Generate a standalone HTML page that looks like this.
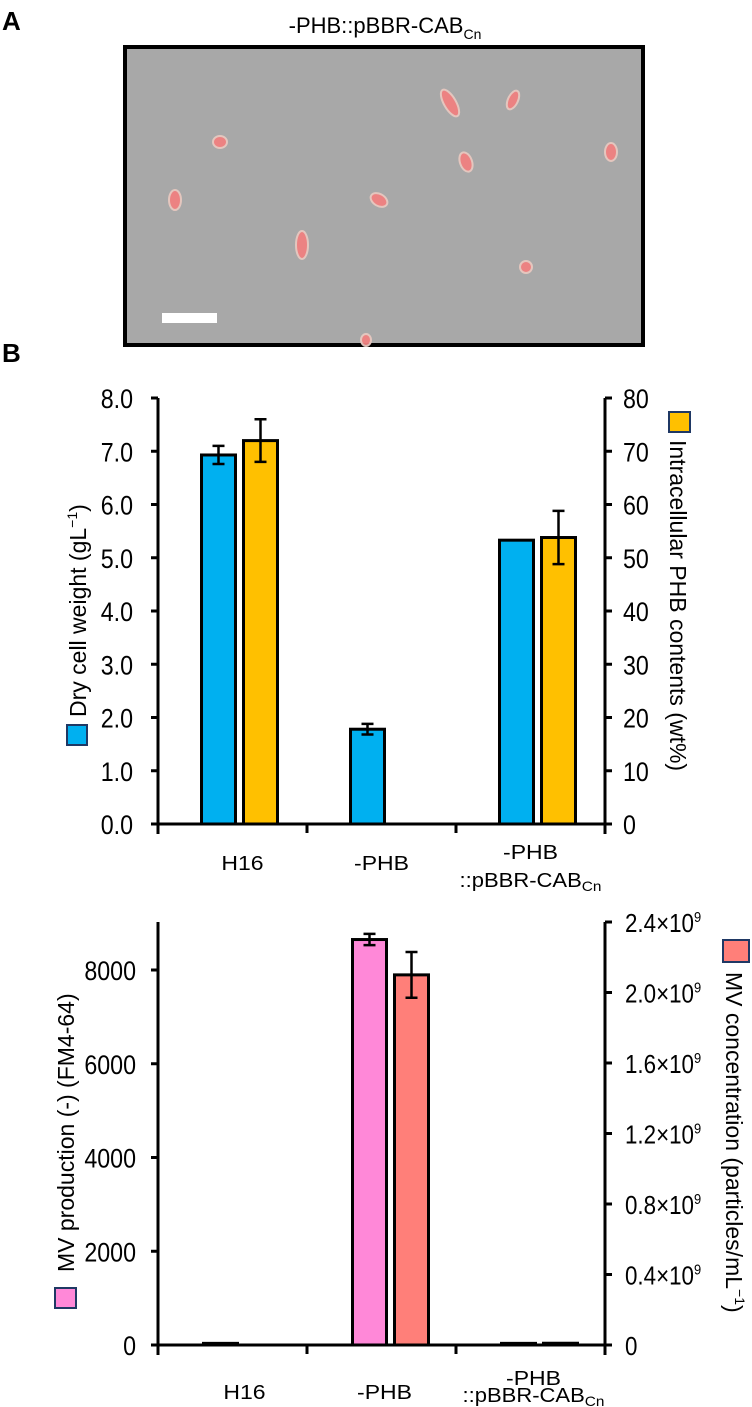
<!DOCTYPE html>
<html><head><meta charset="utf-8">
<style>
html,body{margin:0;padding:0;background:#fff;}
svg{display:block;font-family:"Liberation Sans",Arial,sans-serif;}
</style></head>
<body>
<svg id="fig" width="752" height="1407" viewBox="0 0 752 1407" xmlns="http://www.w3.org/2000/svg">
  <text x="2" y="30" font-size="26" font-weight="bold">A</text>
  <text x="385" y="33" font-size="22" text-anchor="middle">-PHB::pBBR-CAB<tspan font-size="14" dy="6">Cn</tspan></text>
  <g>
    <rect x="125" y="47" width="518" height="298" fill="#a8a8a8" stroke="#000" stroke-width="4"/>
    <g fill="#f08080" stroke="#e8c8c0" stroke-width="2" opacity="0.95">
      <ellipse cx="220" cy="142" rx="7" ry="6"/>
      <ellipse cx="175" cy="200" rx="6" ry="10"/>
      <ellipse cx="302" cy="245" rx="6" ry="14"/>
      <ellipse cx="379" cy="200" rx="9" ry="6" transform="rotate(30 379 200)"/>
      <ellipse cx="450" cy="103" rx="6" ry="15" transform="rotate(-30 450 103)"/>
      <ellipse cx="513" cy="100" rx="5" ry="10" transform="rotate(25 513 100)"/>
      <ellipse cx="466" cy="162" rx="6" ry="10" transform="rotate(-20 466 162)"/>
      <ellipse cx="611" cy="152" rx="6" ry="9"/>
      <ellipse cx="526" cy="267" rx="6" ry="6"/>
      <ellipse cx="366" cy="340" rx="5" ry="6"/>
    </g>
    <rect x="162" y="313" width="55" height="10" fill="#fff"/>
  </g>
  <text x="2" y="362" font-size="26" font-weight="bold">B</text>
  <g id="c1"></g>
  <g id="c2"></g>
</svg>
<script>
const categories = ["H16", "-PHB", "-PHB::pBBR-CABCn"];
const dcwValues = [6.93, 1.78, 5.33];
const dcwErrors = [0.17, 0.1, 0];
const phbValues = [72, null, 53.8];
const phbErrors = [4, null, 5];
const dcwTicks = ["0.0","1.0","2.0","3.0","4.0","5.0","6.0","7.0","8.0"];
const phbTicks = ["0","10","20","30","40","50","60","70","80"];
const mvProdValues = [35, 8650, 35];
const mvProdErrors = [0, 120, 0];
const mvConcValues = [null, 2.1e9, 0.01e9];
const mvConcErrors = [null, 0.13e9, 0];
const mvProdTicks = [0, 2000, 4000, 6000, 8000];
const mvConcTicks = [0, 0.4, 0.8, 1.2, 1.6, 2.0, 2.4];

const NS = "http://www.w3.org/2000/svg";
function mk(parent, tag, attrs, text) {
  const e = document.createElementNS(NS, tag);
  for (const k in attrs) e.setAttribute(k, attrs[k]);
  if (text !== undefined) e.textContent = text;
  parent.appendChild(e);
  return e;
}
function stext(parent, x, y, size, sx, anchor, str) {
  return mk(parent, "text", {transform: `translate(${x},${y}) scale(${sx},1)`, "font-size": size, "text-anchor": anchor}, str);
}
const X0 = 158, X1 = 605;
function groupCenter(i) { return X0 + (X1 - X0) * (i + 0.5) / categories.length; }

function drawBar(g, xl, yTop, yBase, fill, name) {
  const r = mk(g, "rect", {x: xl, y: yTop, width: 34, height: Math.max(yBase - yTop, 0), fill: fill, stroke: "#000", "stroke-width": 3});
  
  
}
function drawErr(g, cx, yHi, yLo, name) {
  const e = mk(g, "path", {d: `M${cx-6},${yHi}H${cx+6}M${cx},${yHi}V${yLo}M${cx-6},${yLo}H${cx+6}`, stroke: "#000", "stroke-width": 2.5, fill: "none"});
  
  
}
function xLabels(g, ySingle, yL1, yL2, dxs) {
  categories.forEach((c, i) => {
    const cx = groupCenter(i) + dxs[i];
    if (i < 2) {
      const t = stext(g, cx, ySingle, 20, 1.15, "middle", c);
      
      
    } else {
      const t = stext(g, cx, yL1, 20, 1.15, "middle", "-PHB");
      
      
      const t2 = stext(g, cx, yL2, 20, 1.1, "middle", "::pBBR-CAB");
      mk(t2, "tspan", {"font-size": 14, dy: 4}, "Cn");
      
      
    }
  });
}
function axes(g, yBase, yAxisTop) {
  mk(g, "path", {d: `M${X0},${yAxisTop}V${yBase+10}M${X1},${yAxisTop}V${yBase+10}M${X0},${yBase}H${X1}`, stroke: "#000", "stroke-width": 3, fill: "none"});
  for (let i = 1; i < categories.length; i++) {
    const x = X0 + (X1 - X0) * i / categories.length;
    mk(g, "line", {x1: x, x2: x, y1: yBase, y2: yBase + 9, stroke: "#000", "stroke-width": 3});
  }
}

// Chart 1
(function(){
  const g = document.getElementById("c1");
  const yBase = 824, yTop = 398;
  const yL = v => yBase - (v / 8) * (yBase - yTop);
  const yR = v => yBase - (v / 80) * (yBase - yTop);
  axes(g, yBase, yTop);
  dcwTicks.forEach(t => {
    const y = yL(parseFloat(t));
    mk(g, "line", {x1: X0 - 7, x2: X0, y1: y, y2: y, stroke: "#000", "stroke-width": 3});
    const tx = stext(g, 133, y + 10, 27, 0.86, "end", t);
    
    
  });
  phbTicks.forEach(t => {
    const y = yR(parseFloat(t));
    mk(g, "line", {x1: X1, x2: X1 + 7, y1: y, y2: y, stroke: "#000", "stroke-width": 3});
    const tx = stext(g, 623, y + 10, 27, 0.86, "start", t);
    
    
  });
  categories.forEach((c, i) => {
    const cx = groupCenter(i) + 7;
    drawBar(g, cx - 38, yL(dcwValues[i]), yBase, "#00b0f0", "dcw-bar-" + i);
    if (dcwErrors[i]) drawErr(g, cx - 21, yL(dcwValues[i] + dcwErrors[i]), yL(dcwValues[i] - dcwErrors[i]), "dcw-error-" + i);
    if (phbValues[i] !== null) {
      drawBar(g, cx + 4, yR(phbValues[i]), yBase, "#ffc000", "phb-bar-" + i);
      if (phbErrors[i]) drawErr(g, cx + 21, yR(phbValues[i] + phbErrors[i]), yR(phbValues[i] - phbErrors[i]), "phb-error-" + i);
    }
  });
  xLabels(g, 870, 859, 887, [10, 0, 0]);
  const lt = mk(g, "g", {transform: "translate(86,611) rotate(-90)"});
  
  
  mk(lt, "rect", {x: -134, y: -19, width: 20, height: 20, fill: "#00b0f0", stroke: "#1f3864", "stroke-width": 2});
  const t1 = mk(lt, "text", {x: -106, y: 0, "font-size": 23}, "Dry cell weight (gL");
  mk(t1, "tspan", {"font-size": 14, dy: -9}, "−1");
  mk(t1, "tspan", {dy: 9}, ")");
  const rt = mk(g, "g", {transform: "translate(670,412) rotate(90)"});
  
  
  mk(rt, "rect", {x: 0, y: -20, width: 20, height: 21, fill: "#ffc000", stroke: "#1f3864", "stroke-width": 2});
  mk(rt, "text", {x: 28, y: 0, "font-size": 23}, "Intracellular PHB contents (wt%)");
})();

// Chart 2
(function(){
  const g = document.getElementById("c2");
  const yBase = 1345;
  const yL = v => yBase - v * (375 / 8000);
  const yR = v => yBase - (v / 1e9) * (423 / 2.4);
  axes(g, yBase, 922);
  mvProdTicks.forEach(t => {
    const y = yL(t);
    mk(g, "line", {x1: X0 - 7, x2: X0, y1: y, y2: y, stroke: "#000", "stroke-width": 3});
    const tx = stext(g, 136, y + 10, 27, 0.86, "end", String(t));
    
    
  });
  mvConcTicks.forEach(t => {
    const y = yR(t * 1e9);
    mk(g, "line", {x1: X1, x2: X1 + 7, y1: y, y2: y, stroke: "#000", "stroke-width": 3});
    const tx = stext(g, 625, y + 10, 26, 0.86, "start", t === 0 ? "0" : t.toFixed(1) + "×10");
    if (t !== 0) mk(tx, "tspan", {"font-size": 15, dy: -10}, "9");
    
    
  });
  categories.forEach((c, i) => {
    const cx = groupCenter(i) + 9;
    drawBar(g, cx - 38, yL(mvProdValues[i]), yBase, "#ff88d8", "mv-production-bar-" + i);
    if (mvProdErrors[i]) drawErr(g, cx - 21, yL(mvProdValues[i] + mvProdErrors[i]), yL(mvProdValues[i] - mvProdErrors[i]), "mv-production-error-" + i);
    if (mvConcValues[i] !== null) {
      drawBar(g, cx + 4, yR(mvConcValues[i]), yBase, "#ff7f79", "mv-concentration-bar-" + i);
      if (mvConcErrors[i]) drawErr(g, cx + 21, yR(mvConcValues[i] + mvConcErrors[i]), yR(mvConcValues[i] - mvConcErrors[i]), "mv-concentration-error-" + i);
    }
  });
  xLabels(g, 1399, 1385, 1402, [12, 3, 3]);
  const lt = mk(g, "g", {transform: "translate(74,1130) rotate(-90)"});
  
  
  mk(lt, "rect", {x: -178, y: -19, width: 20, height: 21, fill: "#ff88d8", stroke: "#1f3864", "stroke-width": 2});
  mk(lt, "text", {x: -142, y: 0, "font-size": 23}, "MV production (-) (FM4-64)");
  const rt = mk(g, "g", {transform: "translate(726,940) rotate(90)"});
  
  
  mk(rt, "rect", {x: 0, y: -23, width: 22, height: 26, fill: "#ff7f79", stroke: "#1f3864", "stroke-width": 2});
  const t2 = mk(rt, "text", {x: 32, y: 0, "font-size": 23}, "MV concentration (particles/mL");
  mk(t2, "tspan", {"font-size": 14, dy: -9}, "−1");
  mk(t2, "tspan", {dy: 9}, ")");
})();
</script>
</body></html>
